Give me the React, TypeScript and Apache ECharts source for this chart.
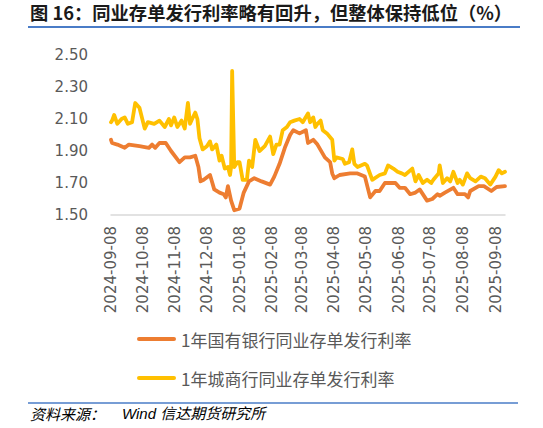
import React, { useEffect, useRef } from 'react';
import * as echarts from 'echarts';

// ---------- data ----------
const AXIS_START = '2024-09-08';
const AXIS_END = '2025-09-17';

const Y_MIN = 1.5;
const Y_MAX = 2.5;
const Y_STEP = 0.2;

const seriesNames = ['1年国有银行同业存单发行利率', '1年城商行同业存单发行利率'];
const seriesColors = ['#ED7D31', '#FFC000'];

const stateDates = [
  '2024-09-08', '2024-09-09', '2024-09-14', '2024-09-21', '2024-09-25', '2024-10-05', '2024-10-14',
  '2024-10-17', '2024-10-20', '2024-10-24', '2024-10-30', '2024-11-04', '2024-11-12', '2024-11-17',
  '2024-11-22', '2024-11-27', '2024-11-30', '2024-12-02', '2024-12-05', '2024-12-11', '2024-12-15',
  '2024-12-20', '2024-12-24', '2024-12-26', '2024-12-28', '2024-12-31', '2025-01-03', '2025-01-08',
  '2025-01-12', '2025-01-17', '2025-01-22', '2025-01-29', '2025-02-06', '2025-02-10', '2025-02-15',
  '2025-02-20', '2025-02-25', '2025-02-28', '2025-03-06', '2025-03-12', '2025-03-14', '2025-03-19',
  '2025-03-23', '2025-03-30', '2025-04-04', '2025-04-06', '2025-04-08', '2025-04-13', '2025-04-23',
  '2025-04-30', '2025-05-07', '2025-05-12', '2025-05-17', '2025-05-21', '2025-05-26', '2025-06-05',
  '2025-06-09', '2025-06-14', '2025-06-19', '2025-06-24', '2025-06-28', '2025-07-05', '2025-07-10',
  '2025-07-15', '2025-07-17', '2025-07-22', '2025-07-30', '2025-08-03', '2025-08-10', '2025-08-13',
  '2025-08-15', '2025-08-23', '2025-08-28', '2025-09-04', '2025-09-09', '2025-09-17',
];
const stateRates = [
  1.97, 1.95, 1.94, 1.92, 1.94, 1.93, 1.92,
  1.94, 1.92, 1.95, 1.95, 1.90, 1.83, 1.86,
  1.86, 1.87, 1.80, 1.71, 1.72, 1.75, 1.66,
  1.64, 1.63, 1.61, 1.68, 1.59, 1.53, 1.54,
  1.64, 1.71, 1.73, 1.71, 1.69, 1.74, 1.82,
  1.92, 2.00, 2.03, 2.01, 2.03, 1.95, 1.97,
  1.94, 1.86, 1.83, 1.76, 1.73, 1.75, 1.76,
  1.76, 1.74, 1.61, 1.65, 1.65, 1.70, 1.70,
  1.67, 1.67, 1.63, 1.64, 1.66, 1.59, 1.60,
  1.63, 1.62, 1.64, 1.67, 1.63, 1.63, 1.61,
  1.65, 1.68, 1.68, 1.65, 1.675, 1.68,
];

const cityDates = [
  '2024-09-08', '2024-09-09', '2024-09-11', '2024-09-14', '2024-09-18', '2024-09-21', '2024-09-24',
  '2024-09-28', '2024-10-01', '2024-10-05', '2024-10-10', '2024-10-13', '2024-10-19', '2024-10-24',
  '2024-10-29', '2024-11-02', '2024-11-04', '2024-11-07', '2024-11-10', '2024-11-14', '2024-11-17',
  '2024-11-20', '2024-11-22', '2024-11-24', '2024-11-27', '2024-11-29', '2024-12-01', '2024-12-04',
  '2024-12-08', '2024-12-11', '2024-12-13', '2024-12-17', '2024-12-20', '2024-12-22', '2024-12-25',
  '2024-12-28', '2024-12-30', '2024-12-31', '2025-01-01', '2025-01-03', '2025-01-06', '2025-01-08',
  '2025-01-11', '2025-01-15', '2025-01-17', '2025-01-20', '2025-01-23', '2025-01-27', '2025-02-01',
  '2025-02-06', '2025-02-09', '2025-02-12', '2025-02-15', '2025-02-18', '2025-02-22', '2025-02-25',
  '2025-03-01', '2025-03-06', '2025-03-09', '2025-03-14', '2025-03-16', '2025-03-19', '2025-03-21',
  '2025-03-23', '2025-03-26', '2025-03-28', '2025-04-01', '2025-04-06', '2025-04-08', '2025-04-10',
  '2025-04-16', '2025-04-18', '2025-04-22', '2025-04-25', '2025-04-27', '2025-04-30', '2025-05-07',
  '2025-05-09', '2025-05-14', '2025-05-21', '2025-05-26', '2025-05-29', '2025-06-03', '2025-06-07',
  '2025-06-11', '2025-06-14', '2025-06-21', '2025-06-24', '2025-06-27', '2025-07-01', '2025-07-05',
  '2025-07-09', '2025-07-11', '2025-07-16', '2025-07-17', '2025-07-20', '2025-07-24', '2025-07-27',
  '2025-07-30', '2025-08-03', '2025-08-05', '2025-08-08', '2025-08-12', '2025-08-15', '2025-08-20',
  '2025-08-25', '2025-08-29', '2025-09-03', '2025-09-08', '2025-09-11', '2025-09-14', '2025-09-17',
];
const cityRates = [
  2.08, 2.09, 2.125, 2.07, 2.10, 2.11, 2.07,
  2.08, 2.20, 2.17, 2.04, 2.08, 2.07, 2.09,
  2.05, 2.10, 2.06, 2.11, 2.05, 2.09, 2.04,
  2.20, 2.07, 2.10, 2.14, 2.10, 1.98, 1.91,
  1.93, 1.96, 1.91, 1.94, 1.84, 1.87, 1.79,
  1.80, 1.75, 1.80, 2.40, 1.80, 1.83, 1.83,
  1.72, 1.72, 1.84, 1.80, 1.97, 1.90, 1.93,
  1.99, 1.88, 1.94, 1.94, 2.03, 2.05, 2.08,
  2.09, 2.10, 2.08, 2.135, 2.08, 2.11, 2.05,
  2.07, 2.09, 2.03, 2.01, 1.97, 1.84, 1.86,
  1.85, 1.82, 1.83, 1.91, 1.82, 1.80, 1.82,
  1.81, 1.72, 1.75, 1.76, 1.81, 1.79, 1.77,
  1.76, 1.75, 1.79, 1.71, 1.75, 1.70, 1.72,
  1.70, 1.72, 1.76, 1.81, 1.70, 1.73, 1.71,
  1.77, 1.70, 1.72, 1.69, 1.76, 1.73, 1.71,
  1.74, 1.73, 1.69, 1.74, 1.78, 1.76, 1.77,
];

const titleText = '图 16：同业存单发行利率略有回升，但整体保持低位（%）';
const sourceLabel = '资料来源：';
const sourceText = 'Wind 信达期货研究所';

// ---------- helpers ----------
function buildDays(start: string, end: string): string[] {
  const out: string[] = [];
  const d = new Date(start + 'T00:00:00Z');
  const e = new Date(end + 'T00:00:00Z');
  while (d.getTime() <= e.getTime()) {
    out.push(d.toISOString().slice(0, 10));
    d.setUTCDate(d.getUTCDate() + 1);
  }
  return out;
}

function align(days: string[], dates: string[], values: number[]): (number | null)[] {
  const m = new Map<string, number>();
  dates.forEach((dt, i) => m.set(dt, values[i]));
  return days.map((dt) => (m.has(dt) ? (m.get(dt) as number) : null));
}

const CJK = '"Noto Sans CJK SC", "Noto Sans", sans-serif';
const LEGEND_ICON = 'path://M2,0 L37,0 A2,2 0 0 1 37,4 L2,4 A2,2 0 0 1 2,0 Z';

export default function App() {
  const ref = useRef<HTMLDivElement>(null);

  useEffect(() => {
    document.body.style.margin = '0';
    if (!ref.current) return;
    const chart = echarts.init(ref.current, undefined, { renderer: 'svg' });
    const days = buildDays(AXIS_START, AXIS_END);
    const dataSets = [align(days, stateDates, stateRates), align(days, cityDates, cityRates)];

    chart.setOption({
      animation: false,
      backgroundColor: '#ffffff',
      grid: { left: 111, right: 38, top: 55, bottom: 213, containLabel: false },
      xAxis: {
        type: 'category',
        data: days,
        boundaryGap: false,
        axisLine: { show: true, lineStyle: { color: '#D9D9D9', width: 1.5 } },
        axisTick: { show: false },
        axisLabel: {
          interval: (_i: number, v: string) => v.slice(8) === '08',
          rotate: 90,
          margin: 11,
          color: '#595959',
          fontSize: 15,
          fontFamily: '"DejaVu Sans", sans-serif',
        },
        splitLine: { show: false },
      },
      yAxis: {
        type: 'value',
        min: Y_MIN,
        max: Y_MAX,
        interval: Y_STEP,
        axisLine: { show: false },
        axisTick: { show: false },
        splitLine: { show: false },
        axisLabel: {
          margin: 23,
          color: '#595959',
          fontSize: 15,
          fontFamily: '"DejaVu Sans", sans-serif',
          formatter: (v: number) => v.toFixed(2),
        },
      },
      legend: {
        orient: 'vertical',
        left: 137,
        top: 329,
        padding: 0,
        itemWidth: 39,
        itemHeight: 4,
        itemGap: 19,
        icon: LEGEND_ICON,
        data: seriesNames,
        textStyle: { color: '#595959', fontSize: 17, fontFamily: CJK, lineHeight: 20 },
      },
      series: seriesNames.map((name, i) => ({
        name,
        type: 'line',
        data: dataSets[i],
        connectNulls: true,
        symbol: 'none',
        showSymbol: false,
        z: i === 0 ? 3 : 2,
        color: seriesColors[i],
        lineStyle: { color: seriesColors[i], width: 3.8, cap: 'round', join: 'round' },
      })),
      graphic: [
        {
          type: 'text',
          left: 30,
          top: 3,
          style: {
            text: titleText,
            fontSize: 18.3,
            fontWeight: 'bold',
            fontFamily: CJK,
            fill: '#1a1a1a',
          },
        },
        {
          type: 'line',
          shape: { x1: 28, y1: 27, x2: 520, y2: 27 },
          style: { stroke: '#4A7CC7', lineWidth: 2 },
        },
        {
          type: 'line',
          shape: { x1: 28, y1: 403, x2: 518, y2: 403 },
          style: { stroke: '#4A7CC7', lineWidth: 1.5 },
        },
        {
          type: 'text',
          left: 30,
          top: 406,
          style: {
            text: sourceLabel,
            fontSize: 15,
            fontStyle: 'italic',
            fontFamily: CJK,
            fill: '#000000',
          },
        },
        {
          type: 'text',
          left: 122,
          top: 406,
          style: {
            text: sourceText,
            fontSize: 15,
            fontStyle: 'italic',
            fontFamily: '"Liberation Sans", ' + CJK,
            fill: '#000000',
          },
        },
      ],
    });

    return () => chart.dispose();
  }, []);

  return <div ref={ref} style={{ width: 543, height: 428 }} />;
}
